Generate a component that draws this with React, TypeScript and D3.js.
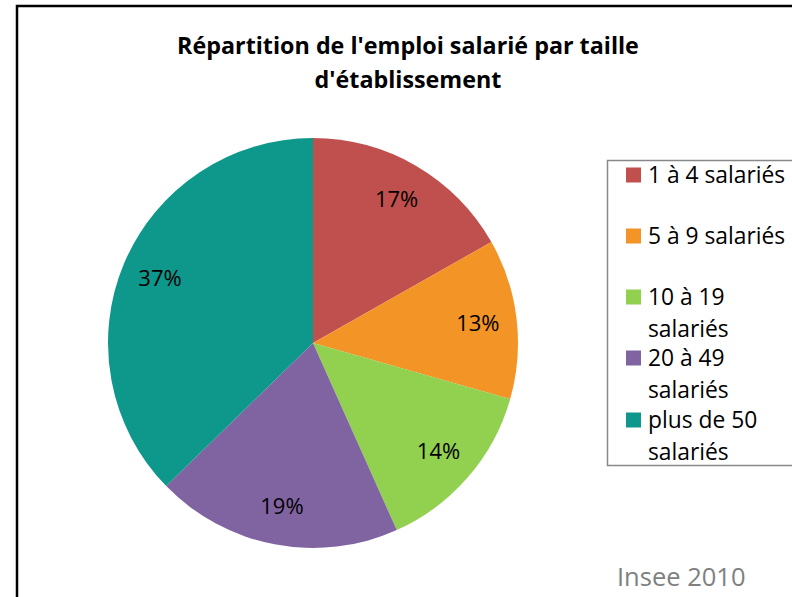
import * as React from 'react';
import * as d3 from 'd3';

// données
const categories = ['1 à 4 salariés', '5 à 9 salariés', '10 à 19 salariés', '20 à 49 salariés', 'plus de 50 salariés'];
const values = [16.8, 12.6, 13.9, 19.4, 37.3];
const colors = ['#C0504D', '#F39426', '#92D050', '#8064A2', '#0E978B'];
const legendLines = [['1 à 4 salariés'], ['5 à 9 salariés'], ['10 à 19', 'salariés'], ['20 à 49', 'salariés'], ['plus de 50', 'salariés']];
const titleLines = ["Répartition de l'emploi salarié par taille", "d'établissement"];

const width = 792;
const height = 597;
const font = '"Open Sans", "Noto Sans", sans-serif';

function App() {
    const cx = 313;
    const cy = 343;
    const radius = 205;

    const pie = d3.pie<number>().sort(null).value((d: number) => d);
    const arcs = pie(values);
    const arc = d3.arc<d3.PieArcDatum<number>>().innerRadius(0).outerRadius(radius);
    const labelArc = d3.arc<d3.PieArcDatum<number>>().innerRadius(166).outerRadius(166);
    const total = d3.sum(values);

    // legende: une position de ligne par entree
    const legendY = [175, 236, 297, 358, 420];

    return (
        <svg width={width} height={height} style={{position: 'absolute', left: 0, top: 0, display: 'block'}}>
            <rect x={0} y={0} width={width} height={height} fill="#ffffff" />
            <rect x={17} y={6} width={width} height={height} fill="none" stroke="#000" strokeWidth={2.5} />

            {titleLines.map((t, i) => (
                <text key={t} x={408} y={54 + i * 34} textAnchor="middle" fontFamily={font}
                      fontWeight="bold" fontSize={23.3} fill="#000">{t}</text>
            ))}

            <g transform={'translate(' + cx + ',' + cy + ')'}>
                {arcs.map((a, i) => (
                    <path key={categories[i]} d={arc(a) || ''} fill={colors[i]} />
                ))}
                {arcs.map((a, i) => {
                    const c = labelArc.centroid(a);
                    return (
                        <text key={'l' + i} x={c[0]} y={c[1]} dy="0.35em" textAnchor="middle"
                              fontFamily={font} fontSize={22} fill="#000">
                            {Math.round(values[i] / total * 100) + '%'}
                        </text>
                    );
                })}
            </g>

            <rect x={607.5} y={160.5} width={300} height={305} fill="#fff" stroke="#888" strokeWidth={1.5} />
            {legendLines.map((lines, i) => (
                <g key={'lg' + i}>
                    <rect x={626} y={legendY[i] - 7.5} width={15} height={15} fill={colors[i]} />
                    {lines.map((l, j) => (
                        <text key={l + j} x={648} y={legendY[i] + j * 32} dy="0.35em" fontFamily={font}
                              fontSize={22.8} fill="#000">{l}</text>
                    ))}
                </g>
            ))}

            <text x={617} y={586} fontFamily={font} fontSize={25.5} fill="#808080">Insee 2010</text>
        </svg>
    );
}

export default App;
